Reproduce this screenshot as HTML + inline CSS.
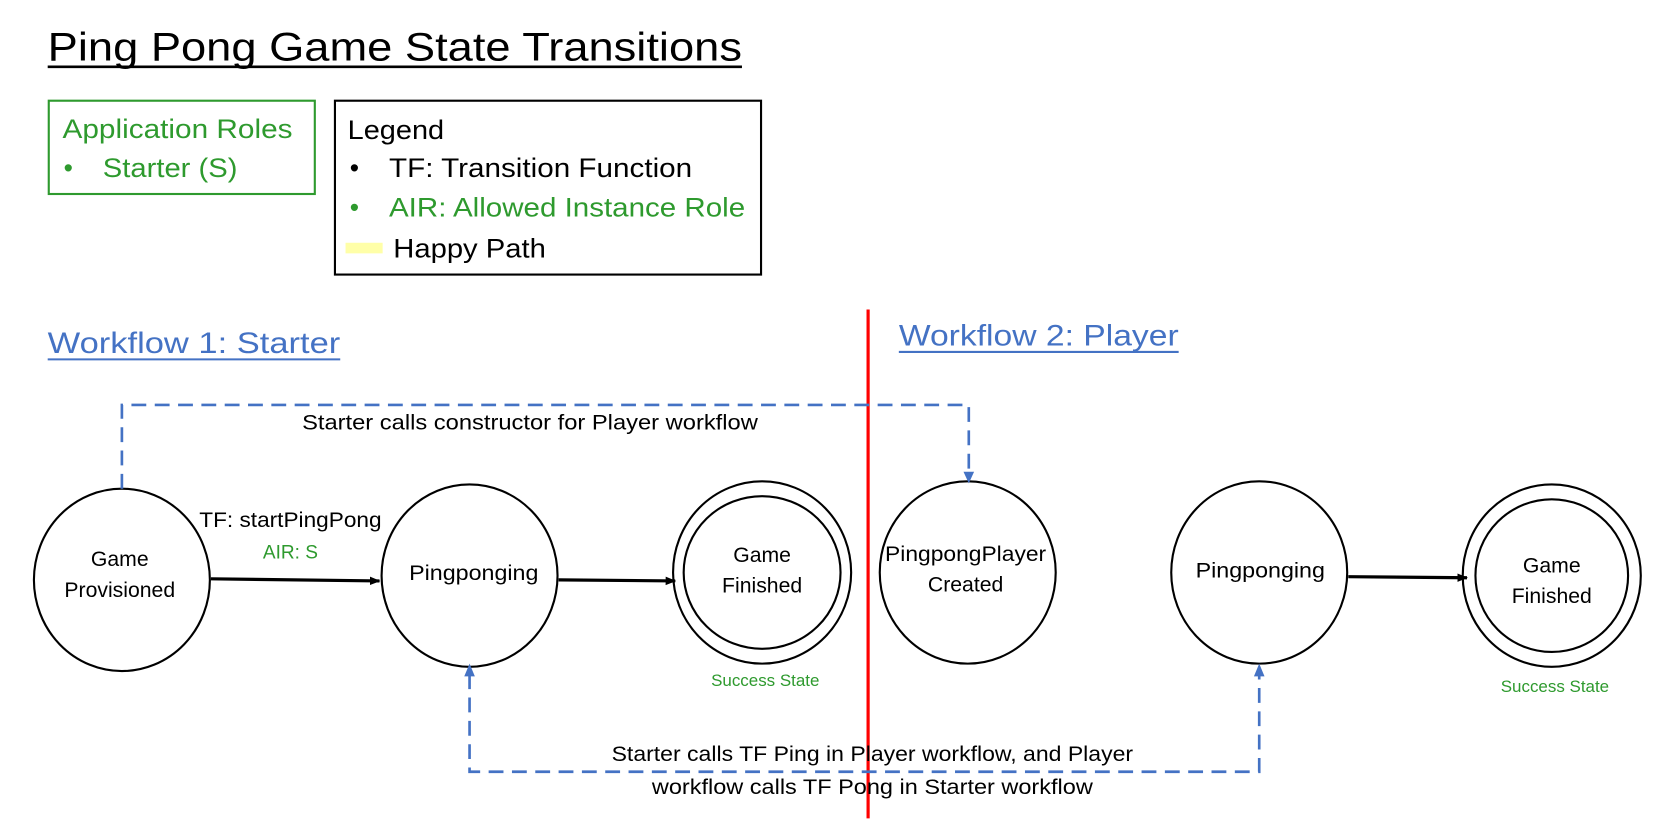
<!DOCTYPE html>
<html><head><meta charset="utf-8"><style>
html,body{margin:0;padding:0;background:#fff;}
svg{display:block}
text{font-family:"Liberation Sans",sans-serif;}
</style></head><body>
<svg width="1662" height="829" viewBox="0 0 1568 782" preserveAspectRatio="none" xmlns="http://www.w3.org/2000/svg">
<defs>
<marker id="ab" markerWidth="10" markerHeight="10" refX="9" refY="5" orient="auto" markerUnits="userSpaceOnUse"><path d="M0,1 L10,5 L0,9 Z" fill="#000"/></marker>
<marker id="au" markerWidth="10" markerHeight="10" refX="9" refY="5" orient="auto" markerUnits="userSpaceOnUse"><path d="M0,1 L10,5 L0,9 Z" fill="#4472c4"/></marker>
</defs>
<text x="45" y="57" font-size="38" fill="#000" textLength="655" lengthAdjust="spacingAndGlyphs">Ping Pong Game State Transitions</text>
<line x1="45" y1="63" x2="700" y2="63" stroke="#000" stroke-width="2.5"/>

<rect x="46" y="95" width="251" height="88" fill="none" stroke="#2e9a2e" stroke-width="2"/>
<text x="59" y="130" font-size="25" fill="#2e9a2e" textLength="217" lengthAdjust="spacingAndGlyphs">Application Roles</text>
<text x="60" y="167" font-size="25" fill="#2e9a2e">•</text>
<text x="97" y="167" font-size="25" fill="#2e9a2e" textLength="127" lengthAdjust="spacingAndGlyphs">Starter (S)</text>

<rect x="316" y="95" width="402" height="164" fill="none" stroke="#000" stroke-width="2"/>
<text x="328" y="131" font-size="25" fill="#000" textLength="91" lengthAdjust="spacingAndGlyphs">Legend</text>
<text x="330" y="167" font-size="25" fill="#000">•</text>
<text x="367" y="167" font-size="25" fill="#000" textLength="286" lengthAdjust="spacingAndGlyphs">TF: Transition Function</text>
<text x="330" y="204" font-size="25" fill="#2e9a2e">•</text>
<text x="367" y="204" font-size="25" fill="#2e9a2e" textLength="336" lengthAdjust="spacingAndGlyphs">AIR: Allowed Instance Role</text>
<rect x="326" y="229" width="35" height="10" fill="#ffffa8"/>
<text x="371" y="243" font-size="25" fill="#000" textLength="144" lengthAdjust="spacingAndGlyphs">Happy Path</text>

<line x1="819" y1="292" x2="819" y2="772" stroke="#ff0000" stroke-width="3"/>

<text x="45" y="333" font-size="28" fill="#4472c4" textLength="276" lengthAdjust="spacingAndGlyphs">Workflow 1: Starter</text>
<line x1="45" y1="339" x2="321" y2="339" stroke="#4472c4" stroke-width="2"/>
<text x="848" y="326" font-size="28" fill="#4472c4" textLength="264" lengthAdjust="spacingAndGlyphs">Workflow 2: Player</text>
<line x1="848" y1="332" x2="1112" y2="332" stroke="#4472c4" stroke-width="2"/>

<g fill="none" stroke="#000" stroke-width="2">
<ellipse cx="115" cy="547" rx="83" ry="86"/>
<ellipse cx="443" cy="543" rx="83" ry="86"/>
<ellipse cx="719" cy="540" rx="84" ry="86"/>
<ellipse cx="719" cy="540" rx="74" ry="72"/>
<ellipse cx="913" cy="540" rx="83" ry="86"/>
<ellipse cx="1188" cy="540" rx="83" ry="86"/>
<ellipse cx="1464" cy="543" rx="84" ry="86"/>
<ellipse cx="1464" cy="543" rx="72" ry="72"/>
</g>
<g stroke="#000" stroke-width="3" marker-end="url(#ab)">
<line x1="199" y1="546" x2="358" y2="548"/>
<line x1="527" y1="547" x2="637" y2="548"/>
<line x1="1272" y1="544" x2="1384" y2="545"/>
</g>
<g fill="none" stroke="#4472c4" stroke-width="2.5" stroke-dasharray="14,8">
<path d="M115,461 V382 H914 V448"/>
<path d="M443,636 V728 H1188 V636"/>
</g>
<path d="M443,626 L438,638 L448,638 Z" fill="#4472c4"/>
<path d="M1188,626 L1183,638 L1193,638 Z" fill="#4472c4"/>
<path d="M914,456 L909,445 L919,445 Z" fill="#4472c4"/>

<g font-size="20" fill="#000" text-anchor="middle">
<text x="113" y="534">Game</text>
<text x="113" y="563">Provisioned</text>
<text x="447" y="547" textLength="122" lengthAdjust="spacingAndGlyphs">Pingponging</text>
<text x="719" y="530">Game</text>
<text x="719" y="559">Finished</text>
<text x="911" y="529" textLength="152" lengthAdjust="spacingAndGlyphs">PingpongPlayer</text>
<text x="911" y="558">Created</text>
<text x="1189" y="545" textLength="122" lengthAdjust="spacingAndGlyphs">Pingponging</text>
<text x="1464" y="540">Game</text>
<text x="1464" y="569">Finished</text>
<text x="274" y="497" textLength="172" lengthAdjust="spacingAndGlyphs">TF: startPingPong</text>
<text x="500" y="405" textLength="430" lengthAdjust="spacingAndGlyphs">Starter calls constructor for Player workflow</text>
<text x="823" y="718" textLength="492" lengthAdjust="spacingAndGlyphs">Starter calls TF Ping in Player workflow, and Player</text>
<text x="823" y="749" textLength="416" lengthAdjust="spacingAndGlyphs">workflow calls TF Pong in Starter workflow</text>
</g>
<text x="274" y="527" font-size="18" fill="#2e9a2e" text-anchor="middle">AIR: S</text>
<text x="722" y="647" font-size="16" fill="#2e9a2e" text-anchor="middle">Success State</text>
<text x="1467" y="653" font-size="16" fill="#2e9a2e" text-anchor="middle">Success State</text>
</svg>
</body></html>
